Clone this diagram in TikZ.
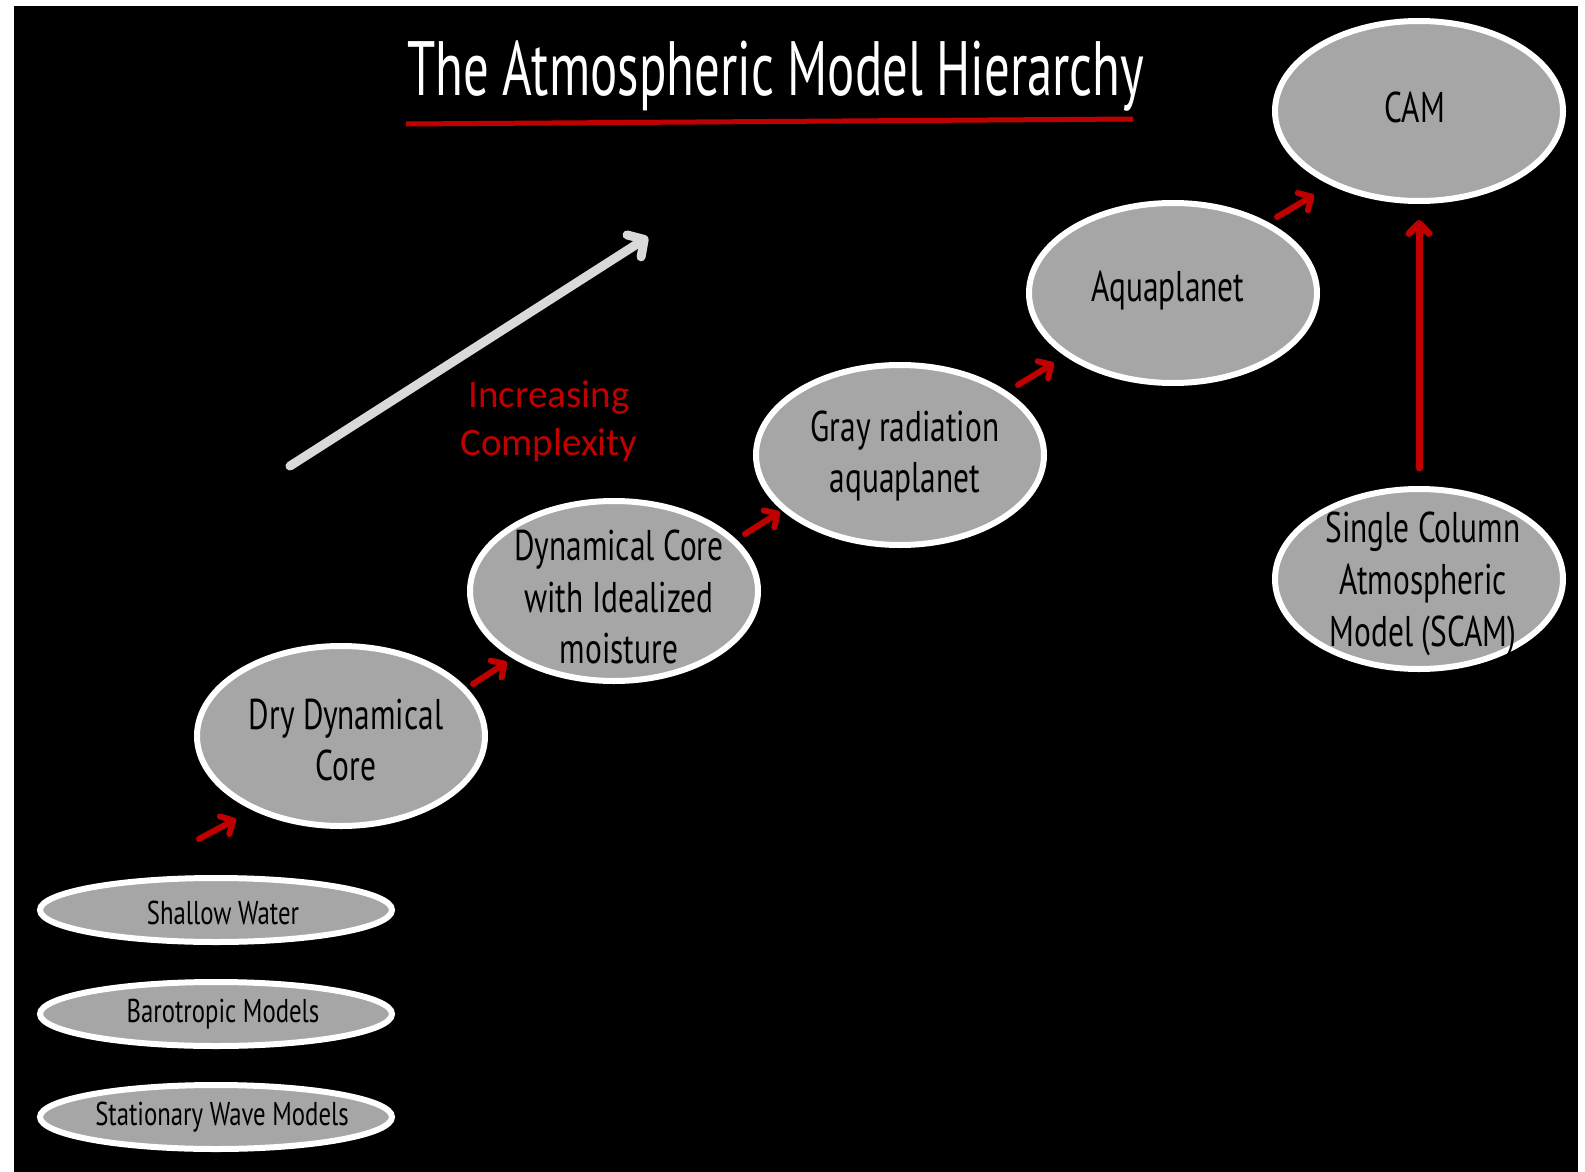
\documentclass[tikz,border=0pt]{standalone}
\usepackage{fontspec}
\usetikzlibrary{shapes.geometric,arrows.meta}
\newfontfamily\agencyfont[FakeStretch=0.66]{PT Sans}
\newfontfamily\agencybody[FakeStretch=0.73]{PT Sans}
\newfontfamily\agencysmall[FakeStretch=0.75]{PT Sans}
\newfontfamily\calibrifont{Carlito}
\definecolor{bubblegray}{HTML}{A6A6A6}
\definecolor{deepred}{HTML}{C00000}
\definecolor{lightarrow}{HTML}{D9D9D9}

\tikzset{
  bubble/.style={ellipse, draw=white, line width=3pt, fill=bubblegray,
    minimum width=144pt, minimum height=90pt, inner sep=0pt},
  flatbubble/.style={bubble, minimum width=176pt, minimum height=32pt},
  bubbletext/.style={font=\agencybody\fontsize{21.5}{25.8}\selectfont,
    align=center, text=black, inner sep=0pt},
  flattext/.style={font=\agencysmall\fontsize{16.5}{20}\selectfont,
    text=black, inner sep=0pt},
  redarrow/.style={draw=deepred, line width=3pt, line cap=round,
    -{Straight Barb[length=5pt,width=10pt,round]}},
}

\begin{document}
\begin{tikzpicture}[x=0.5pt,y=0.5pt,yscale=-1,xscale=1]
  \useasboundingbox (0,0) rectangle (1585,1172);
  %Shape: Rectangle [background]
  \fill[black] (14,6) rectangle (1578,1172);

  % Text Node
  \node[font=\agencyfont\fontsize{38.5}{40}\selectfont, text=white, anchor=base, inner sep=0pt] (title) at (776,96) {The Atmospheric Model Hierarchy};
  %Straight Lines [underline]
  \draw[deepred, line width=2.5pt] (406,124) -- (1133,119);

  %Shape: Ellipse [flat models]
  \node[flatbubble] (shallow) at (216,910) {};
  \node[flatbubble] (baro) at (216,1014) {};
  \node[flatbubble] (stat) at (216,1117) {};
  %Shape: Ellipse [hierarchy]
  \node[bubble] (dry) at (341,736) {};
  \node[bubble] (moist) at (614,591) {};
  \node[bubble] (gray) at (900,455) {};
  \node[bubble] (aqua) at (1173,293) {};
  \node[bubble] (cam) at (1419,111) {};
  \node[bubble] (scam) at (1419,579) {};

  % Text Node
  \node[flattext] (shallowtxt) at (223,913) {Shallow Water};
  \node[flattext] (barotxt) at (223,1014) {Barotropic Models};
  \node[flattext] (stattxt) at (222,1117) {Stationary Wave Models};
  \node[bubbletext] (drytxt) at (346,740) {Dry Dynamical\\Core};
  \node[bubbletext] (moisttxt) at (619,597) {Dynamical Core\\with Idealized\\moisture};
  \node[bubbletext] (graytxt) at (905,456) {Gray radiation\\aquaplanet};
  \node[bubbletext] (aquatxt) at (1168,291) {Aquaplanet};
  \node[bubbletext] (camtxt) at (1415,107) {CAM};
  \node[bubbletext] (scamtxt) at (1423,584) {Single Column\\Atmospheric\\Model (SCAM)};

  %Straight Lines [complexity arrow]
  \coordinate (cxstart) at (290,466);
  \coordinate (cxend) at (648,237);
  \draw[lightarrow, line width=4.5pt, line cap=round, -{Straight Barb[length=6pt,width=13pt,round]}] (cxstart) -- (cxend);
  % Text Node
  \node[font=\calibrifont\fontsize{19.5}{24}\selectfont, text=deepred, align=center, inner sep=0pt] (cxtxt) at (549,421) {Increasing\\Complexity};

  %Straight Lines [step arrows]
  \coordinate (s1a) at (199,839);  \coordinate (s1b) at (236,819);
  \coordinate (s2a) at (473,684);  \coordinate (s2b) at (507,662);
  \coordinate (s3a) at (745,534);  \coordinate (s3b) at (780,512);
  \coordinate (s4a) at (1018,385); \coordinate (s4b) at (1054,363);
  \coordinate (s5a) at (1277,217); \coordinate (s5b) at (1314,195);
  \foreach \i in {1,...,5}
    \draw[redarrow] (s\i a) -- (s\i b);
  %Straight Lines [scam to cam]
  \draw[redarrow, line width=3.5pt, shorten <=9pt, shorten >=8pt] (scam.north) -- (cam.south);
\end{tikzpicture}
\end{document}
